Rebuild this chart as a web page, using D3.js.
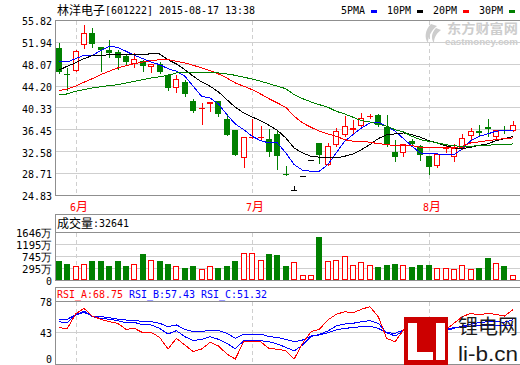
<!DOCTYPE html>
<html><head><meta charset="utf-8">
<script src="https://cdn.jsdelivr.net/npm/d3@7"></script>
<style>body{margin:0;background:#fff}svg{display:block}</style>
</head><body>
<svg id="c" width="520" height="365"></svg>
<script>
// ---------------- DATA ----------------
const dates = ["2015-05-28","2015-05-29",
 "2015-06-01","2015-06-02","2015-06-03","2015-06-04","2015-06-05","2015-06-08","2015-06-09","2015-06-10","2015-06-11","2015-06-12",
 "2015-06-15","2015-06-16","2015-06-17","2015-06-18","2015-06-19","2015-06-23","2015-06-24","2015-06-25","2015-06-26","2015-06-29","2015-06-30",
 "2015-07-01","2015-07-02","2015-07-03","2015-07-06","2015-07-07","2015-07-08","2015-07-09","2015-07-10","2015-07-15","2015-07-16","2015-07-17",
 "2015-07-20","2015-07-21","2015-07-22","2015-07-23","2015-07-24","2015-07-27","2015-07-28","2015-07-29","2015-07-30","2015-07-31",
 "2015-08-03","2015-08-04","2015-08-05","2015-08-06","2015-08-07","2015-08-10","2015-08-11","2015-08-12","2015-08-13","2015-08-14","2015-08-17"];
const openP  = [50.95,46.35,46.85,51.43,53.60,51.07,50.55,50.24,49.48,48.17,48.70,47.64,48.12,46.23,43.82,44.94,41.52,40.10,41.10,41.57,38.39,36.39,31.48,35.12,35.12,34.85,35.73,28.70,25.77,28.35,31.19,34.14,30.19,33.73,35.50,36.50,37.10,38.68,39.04,36.97,32.55,32.32,34.43,33.55,31.78,30.01,33.02,31.60,33.25,35.32,36.21,36.97,35.15,36.45,36.32];
const highP  = [51.84,47.41,50.55,55.08,54.49,51.10,52.30,50.65,49.77,50.07,48.80,48.20,48.47,46.30,46.12,45.34,41.93,41.22,41.40,41.60,39.27,36.40,35.20,38.33,37.10,36.60,36.49,30.00,26.47,28.35,31.19,34.14,34.14,36.80,38.97,38.26,39.45,39.20,39.33,39.15,34.62,34.02,34.90,33.73,31.78,32.37,33.78,33.96,35.79,36.80,37.38,38.38,36.40,37.10,37.98];
const lowP   = [46.60,43.57,46.80,50.95,51.07,46.80,49.30,47.30,47.89,47.54,46.90,46.65,46.53,43.57,43.17,42.40,39.57,37.50,39.86,38.86,35.50,31.96,29.89,35.00,34.72,31.78,29.59,28.53,25.77,28.35,31.19,30.60,30.19,33.55,35.32,35.90,36.80,38.60,37.10,33.55,30.90,31.78,33.73,31.19,28.71,29.89,32.60,31.00,33.13,34.72,35.32,35.32,35.00,35.90,36.30];
const closeP = [46.65,46.09,50.50,53.60,51.71,50.60,50.07,49.18,48.48,49.00,47.82,48.12,46.70,43.87,45.47,42.81,39.86,40.33,41.40,39.27,35.50,32.07,35.20,35.18,35.20,32.55,31.78,28.63,25.77,28.35,31.19,31.96,33.55,36.21,37.10,36.80,38.56,38.97,37.27,33.73,31.60,34.02,33.96,31.96,29.84,32.19,33.20,33.25,35.03,36.32,35.91,36.67,36.39,36.21,37.27];
// volume, 万股
const volume = [569,456,407,445,569,569,381,569,381,482,831,595,569,456,370,306,370,294,370,306,370,569,858,895,632,831,794,381,531,32,32,1469,569,606,756,418,531,418,343,418,456,418,343,418,418,306,306,268,418,268,306,681,493,381,32];
// moving averages
const ma5  = [48.60,48.47,49.06,49.66,49.66,50.47,51.25,51.07,50.37,49.66,49.06,48.47,48.00,47.29,46.83,45.95,44.18,42.40,42.10,41.04,39.15,37.50,36.49,35.32,34.55,34.14,34.14,32.37,30.30,29.31,29.13,29.13,30.30,32.37,34.44,35.61,36.79,37.68,37.80,37.10,36.21,34.90,33.56,32.37,32.19,32.19,32.07,32.07,33.08,34.55,35.32,35.73,36.21,36.39,36.39];
const ma10 = [47.01,47.71,48.30,49.06,49.59,49.59,49.77,49.77,49.89,49.77,49.77,49.94,49.89,48.88,48.12,47.11,45.95,44.94,44.18,43.17,41.80,40.46,39.45,38.74,38.09,37.27,36.39,35.02,33.25,32.37,31.78,31.61,31.48,31.48,31.78,32.19,32.95,33.84,34.90,35.61,35.73,35.91,35.61,35.15,34.55,34.14,33.66,33.25,33.13,33.38,33.73,33.96,34.55,34.90,35.25];
const ma20 = [43.40,43.70,44.18,44.88,45.52,46.23,46.83,47.41,47.82,48.18,48.47,48.71,48.88,48.88,48.60,48.30,47.89,47.41,46.94,46.35,45.64,44.76,44.18,43.57,42.81,41.98,41.22,40.46,38.87,37.68,36.92,36.21,35.73,35.32,34.72,34.44,34.44,34.26,34.02,33.84,33.66,33.73,33.66,33.38,33.25,33.25,33.25,33.25,33.56,34.14,34.32,34.55,34.72,34.90,35.02];
const ma30 = [42.69,42.81,43.29,43.57,43.87,44.10,44.28,44.46,44.76,45.06,45.34,45.64,45.87,46.12,46.53,46.65,46.65,46.65,46.65,46.53,46.35,46.12,45.77,45.47,45.06,44.64,44.18,43.75,42.69,41.98,41.40,40.92,40.46,39.75,39.27,38.69,38.09,37.86,37.50,37.10,36.49,36.09,35.32,34.72,34.44,34.14,33.84,33.61,33.56,33.56,33.66,33.73,33.84,33.84,33.96];
// RSI
const rsiA = [48.8,47.0,63.9,70.3,61.6,57.9,55.2,53.4,46.6,47.7,42.8,43.2,37.5,24.4,36.4,28.9,21.4,24.4,31.9,27.8,18.7,13.1,32.6,32.6,32.6,25.1,24.0,22.5,13.1,30.8,43.9,46.6,57.1,63.5,66.5,65.4,69.2,72.2,60.9,36.4,32.6,45.8,42.1,39.0,36.4,40.2,45.8,53.4,60.9,64.6,62.8,64.6,63.5,61.6,68.75];
const rsiB = [55.2,54.1,62.8,67.3,60.9,59.0,57.9,56.4,54.1,54.5,51.5,51.5,47.7,41.3,45.1,38.3,33.8,35.3,38.3,35.3,30.8,24.4,33.8,33.8,33.8,32.6,30.0,26.3,22.1,28.9,38.3,40.9,44.7,50.3,52.6,53.4,55.2,56.4,53.4,42.8,39.0,45.1,43.9,42.8,42.1,43.9,45.1,47.7,50.3,52.6,54.1,55.2,55.2,54.5,57.43];
const rsiC = [57.9,57.9,62.8,65.8,61.6,60.9,59.7,58.2,57.1,57.1,55.2,55.2,53.4,49.6,51.5,46.6,43.9,43.9,45.8,45.1,42.1,36.4,41.3,41.3,41.3,38.3,37.5,35.3,32.6,34.5,39.0,40.2,42.8,45.8,47.7,48.5,49.6,50.3,47.7,42.8,42.1,45.8,45.1,44.7,43.9,45.1,46.6,48.5,49.6,50.3,50.7,51.1,51.1,50.9,51.32];
// ticks & labels
const priceTicks = [55.82,51.94,48.07,44.20,40.33,36.45,32.58,28.71,24.83];
const volMin = -156, volMax = 1646;
const volTicks = [volMin,295,745,1195,1646];
const rsiMin = 8, rsiMax = 78;
const rsiTicks = [rsiMin,43,78];
const monthLabels = ["6月","7月","8月"];
const stockName = "林洋电子";
const titleRest = "[601222] 2015-08-17 13:38";
const legendNames = ["5PMA","10PM","20PM","30PM"];
const legendColors = ["#0000ff","#000000","#ff0000","#008000"];
const volTitle = "成交量", volTitleVal = ":32641";
const rsiNames = ["RSI_A","RSI_B","RSI_C"];
const rsiLast = ["68.75","57.43","51.32"];
const rsiColors = ["#ff0000","#0000ff","#0000ff"];

// ---------------- DRAW ----------------
const svg = d3.select("#c");
const MONO = "'DejaVu Sans Mono','Liberation Mono',monospace";
const CJK = "'Noto Sans CJK SC',sans-serif";
const GRID = "#cfcfcf", BORDER = "#8f8f8f";
const RED = "#ff0000", GREEN = "#008000";
const L = 55.5, R = 520.5;

function isCJK(ch){ return /[\u3000-\u9fff\uff00-\uffef]/.test(ch); }
function txtW(s, cw){ let w=0; for (const ch of s) w += isCJK(ch)? 12 : cw; return w; }
function mtext(g, xx, yy, s, color, cw=6, size=11){
  return g.append("text").attr("x",xx).attr("y",yy).attr("fill",color)
    .attr("font-family", MONO).attr("font-size",size)
    .attr("textLength", txtW(s,cw)).attr("lengthAdjust","spacingAndGlyphs").text(s);
}
function ctext(g, xx, yy, s, color, size=12){
  return g.append("text").attr("x",xx).attr("y",yy).attr("fill",color)
    .attr("font-family", CJK).attr("font-size",size).text(s);
}

const x = d3.scalePoint().domain(dates).range([58.7, 512.8]);
const cx = d => Math.round(x(d));
const yP = d3.scaleLinear().domain([24.83,55.82]).range([195.5,20.5]);
const yV = d3.scaleLinear().domain([volMin,volMax]).range([280.5,232.5]);
const yR = d3.scaleLinear().domain([rsiMin,rsiMax]).range([363.5,301.5]);

// month start indices
const monthIdx = [];
dates.forEach((d,i)=>{ if(i>0 && d.slice(5,7)!==dates[i-1].slice(5,7)) monthIdx.push(i); });

// title
ctext(svg, 57, 15, stockName, "#000");
mtext(svg, 105, 14, titleRest, "#000");
// legend
legendNames.forEach((nm,k)=>{
  const lx = 341 + k*46;
  mtext(svg, lx, 14, nm, "#000");
  svg.append("rect").attr("x",lx+30).attr("y",10).attr("width",6).attr("height",3).attr("fill",legendColors[k]);
});

// watermark eastmoney
const wm = svg.append("g").attr("fill","#cdcdcd");
wm.append("path").attr("d","M431,24 C425,30 424,38 428,43 C428,36 432,30 437,26 Z M436,28 C431,33 431,39 434,43 C434,37 437,33 441,30 Z");
wm.append("text").attr("x",447).attr("y",33).attr("font-family",CJK).attr("font-weight","bold").attr("font-size",13).attr("textLength",71).attr("lengthAdjust","spacingAndGlyphs").text("东方财富网");
wm.append("text").attr("x",445).attr("y",45).attr("font-family","'Liberation Sans',sans-serif").attr("font-weight","bold").attr("font-size",9).attr("textLength",73).attr("lengthAdjust","spacingAndGlyphs").text("eastmoney.com");

// ---------- main panel ----------
const gm = svg.append("g");
priceTicks.slice(1,-1).forEach(t=>{
  const yy = Math.round(yP(t)-0.5)+0.5;
  gm.append("line").attr("x1",L).attr("x2",R).attr("y1",yy).attr("y2",yy).attr("stroke",GRID);
});
function vdash(g, y1, y2){
  monthIdx.forEach(i=>{
    const xx = cx(dates[i])+0.5;
    g.append("line").attr("x1",xx).attr("x2",xx).attr("y1",y1).attr("y2",y2)
      .attr("stroke",GRID).attr("stroke-dasharray","4,3");
  });
}
vdash(gm, 21, 195);
gm.append("rect").attr("x",L).attr("y",20.5).attr("width",R-L+2).attr("height",175).attr("fill","none").attr("stroke",BORDER);

// y axis price
const axP = svg.append("g").attr("transform",`translate(56,0)`)
  .call(d3.axisLeft(yP).tickValues(priceTicks).tickFormat(d3.format(".2f")).tickSize(0).tickPadding(4));
axP.select(".domain").remove();
function fixAxis(ax){
  ax.selectAll("text").each(function(){
    const s = d3.select(this).text();
    const w = txtW(s,6);
    d3.select(this).attr("font-family",MONO).attr("font-size",11).attr("fill","#000")
      .attr("text-anchor","start").attr("x",-4-w).attr("dy","0.4em")
      .attr("textLength",w).attr("lengthAdjust","spacingAndGlyphs");
  });
}
fixAxis(axP);

// candles
const yPix = v => Math.round(yP(v));
const gc = svg.append("g").attr("shape-rendering","crispEdges");
dates.forEach((d,i)=>{
  const o=openP[i], c=closeP[i], h=highP[i], l=lowP[i];
  const c0 = cx(d), left = c0-3;
  const up = c>o, down = c<o;
  const col = up? RED : down? GREEN : "#000";
  const top = yPix(Math.max(o,c)), bot = yPix(Math.min(o,c));
  const hh = Math.max(1, bot-top);
  if (up && hh>2){
    gc.append("line").attr("x1",c0+0.5).attr("x2",c0+0.5).attr("y1",yPix(h)).attr("y2",top).attr("stroke",col);
    gc.append("line").attr("x1",c0+0.5).attr("x2",c0+0.5).attr("y1",bot).attr("y2",yPix(l)+1).attr("stroke",col);
    gc.append("rect").attr("x",left+0.5).attr("y",top+0.5).attr("width",5).attr("height",hh-1).attr("fill","#fff").attr("stroke",col);
  } else {
    gc.append("line").attr("x1",c0+0.5).attr("x2",c0+0.5).attr("y1",yPix(h)).attr("y2",yPix(l)+1).attr("stroke",col);
    gc.append("rect").attr("x",left).attr("y",top).attr("width",6).attr("height",hh).attr("fill",col);
  }
});

// MA lines
const maSets = [ma5,ma10,ma20,ma30];
maSets.forEach((arr,k)=>{
  svg.append("path").datum(arr)
    .attr("d", d3.line().x((v,i)=>x(dates[i])).y(v=>yP(v)))
    .attr("fill","none").attr("stroke",legendColors[k]).attr("stroke-width",1).attr("shape-rendering","crispEdges");
});

// month labels
monthIdx.forEach((i,k)=>{
  const xx = cx(dates[i]) - 6;
  const lab = monthLabels[k];
  mtext(svg, xx, 210.5, lab.slice(0,-1), RED);
  ctext(svg, xx + 6*(lab.length-1), 211, lab.slice(-1), RED);
});

// ---------- volume panel ----------
const gv = svg.append("g");
volTicks.slice(1,-1).forEach(t=>{
  const yy = Math.round(yV(t)-0.5)+0.5;
  gv.append("line").attr("x1",L).attr("x2",R).attr("y1",yy).attr("y2",yy).attr("stroke",GRID);
});
vdash(gv, 233, 280);
const gvb = svg.append("g").attr("shape-rendering","crispEdges");
dates.forEach((d,i)=>{
  const left = cx(d)-3;
  const top = Math.round(yV(volume[i])), bot = 280;
  const hh = Math.max(1, bot-top);
  if (closeP[i] >= openP[i]){
    gvb.append("rect").attr("x",left+0.5).attr("y",top+0.5).attr("width",5).attr("height",hh-1).attr("fill","#fff").attr("stroke",RED);
  } else {
    gvb.append("rect").attr("x",left).attr("y",top).attr("width",6).attr("height",hh).attr("fill",GREEN);
  }
});
gv.append("rect").attr("x",L).attr("y",214.5).attr("width",R-L+2).attr("height",66).attr("fill","none").attr("stroke",BORDER);
gv.append("line").attr("x1",L).attr("x2",R).attr("y1",232.5).attr("y2",232.5).attr("stroke",BORDER);
ctext(svg, 57, 228, volTitle, "#000");
mtext(svg, 93, 227, volTitleVal, "#000");
const axV = svg.append("g").attr("transform",`translate(56,0)`)
  .call(d3.axisLeft(yV).tickValues(volTicks).tickFormat(d => d===volMin ? "0" : d3.format("d")(d)+"万").tickSize(0).tickPadding(4));
axV.select(".domain").remove();
fixAxis(axV);

// ---------- RSI panel ----------
const gr = svg.append("g");
rsiTicks.slice(1,-1).forEach(t=>{
  const yy = Math.round(yR(t)-0.5)+0.5;
  gr.append("line").attr("x1",L).attr("x2",R).attr("y1",yy).attr("y2",yy).attr("stroke",GRID);
});
vdash(gr, 302, 364);
[rsiC, rsiB, rsiA].forEach((arr,k)=>{
  svg.append("path").datum(arr)
    .attr("d", d3.line().x((v,i)=>x(dates[i])).y(v=>yR(v)))
    .attr("fill","none").attr("stroke",[rsiColors[2],rsiColors[1],rsiColors[0]][k]).attr("stroke-width",1).attr("shape-rendering","crispEdges");
});
gr.append("rect").attr("x",L).attr("y",287.5).attr("width",R-L+2).attr("height",77).attr("fill","none").attr("stroke",BORDER);
gr.append("line").attr("x1",L).attr("x2",R).attr("y1",301.5).attr("y2",301.5).attr("stroke",BORDER);
rsiNames.forEach((nm,k)=>{
  mtext(svg, 57 + k*72, 297.5, nm + ":" + rsiLast[k], rsiColors[k]);
});
const axR = svg.append("g").attr("transform",`translate(56,0)`)
  .call(d3.axisLeft(yR).tickValues(rsiTicks).tickFormat(d => d===rsiMin ? "0" : String(d)).tickSize(0).tickPadding(4));
axR.select(".domain").remove();
fixAxis(axR);
axR.selectAll("text").filter(function(){ return d3.select(this).text()==="0"; }).attr("dy","-0.1em");

// li-b.cn watermark
const lg = svg.append("g");
lg.append("rect").attr("x",404).attr("y",317).attr("width",44).attr("height",48).attr("fill","#cc0000");
lg.append("rect").attr("x",408).attr("y",323).attr("width",9).attr("height",37).attr("fill","#fff");
lg.append("rect").attr("x",408).attr("y",352).attr("width",25).attr("height",8).attr("fill","#fff");
lg.append("rect").attr("x",436).attr("y",323).attr("width",9).attr("height",37).attr("fill","#fff");
lg.append("text").attr("x",458).attr("y",334).attr("font-family",CJK).attr("font-size",20).attr("fill","#1a1a1a").text("锂电网");
lg.append("text").attr("x",458).attr("y",361).attr("font-family","'Liberation Sans',sans-serif").attr("font-size",20).attr("fill","#1a1a1a").attr("textLength",60).attr("lengthAdjust","spacingAndGlyphs").text("li-b.cn");
</script>
</body></html>
